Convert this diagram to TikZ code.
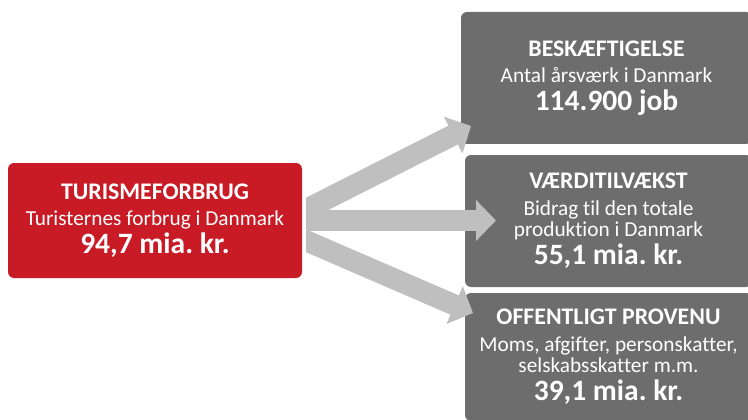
\documentclass[tikz,border=0pt]{standalone}
\usepackage{fontspec}
\setmainfont{Carlito}[Ligatures=NoCommon]
\usetikzlibrary{arrows.meta}
\definecolor{tourred}{HTML}{C81B26}
\definecolor{boxgray}{HTML}{6D6D6D}
\definecolor{flowgray}{HTML}{BFBFBF}
\newcommand{\boxhead}[1]{{\bfseries\fontsize{23.8}{21.5}\selectfont #1}}
\newcommand{\boxnum}[1]{{\bfseries\fontsize{29.5}{21.5}\selectfont #1}}
\newcommand{\boxtext}{\fontsize{21.3}{21.5}\selectfont\lineskiplimit-50pt\relax}
\frenchspacing
\begin{document}
\begin{tikzpicture}[x=1pt, y=-1pt,
    card/.style={fill=boxgray, text=white, rounded corners=6pt, inner sep=0pt,
      align=center, font=\boxtext},
    flow/.style={flowgray, line width=21pt, -{Triangle[width=40pt, length=20pt]}}]
  \useasboundingbox (0,0) rectangle (748,420);
  \node[card, fill=tourred, minimum width=294pt, minimum height=115pt] (turisme) at (155,220.5)
    {\boxhead{TURISMEFORBRUG}\\[5pt] Turisternes forbrug i Danmark\\[6pt] \boxnum{94,7 mia. kr.}};
  \node[card, minimum width=291pt, minimum height=132pt] (beskaeft) at (606.5,78)
    {\boxhead{BESKÆFTIGELSE}\\[5pt] Antal årsværk i Danmark\\[6.5pt] \boxnum{114.900 job}};
  \node[card, minimum width=287pt, minimum height=132pt] (vaerdi) at (608.5,221)
    {\boxhead{VÆRDITILVÆKST}\\[5pt] Bidrag til den totale\\ produktion i Danmark\\[6.5pt] \boxnum{55,1 mia. kr.}};
  \node[card, minimum width=287pt, minimum height=128pt] (provenu) at (608.5,357)
    {\boxhead{OFFENTLIGT PROVENU}\\[5pt] Moms, afgifter, personskatter,\\ selskabsskatter m.m.\\[6.5pt] \boxnum{39,1 mia. kr.}};
  \coordinate (tipbesk) at (471,126);
  \coordinate (tipvaerdi) at (496,220.5);
  \coordinate (tipprov) at (473,313);
  \begin{scope}
    \clip (306,0) rectangle (748,420);
    \draw[flow] ([shift={(-6pt,6pt)}]turisme.east) -- (tipbesk);
    \draw[flow] ([xshift=-6pt]turisme.east) -- (tipvaerdi);
    \draw[flow] ([shift={(-6pt,-16pt)}]turisme.east) -- (tipprov);
  \end{scope}
\end{tikzpicture}
\end{document}
